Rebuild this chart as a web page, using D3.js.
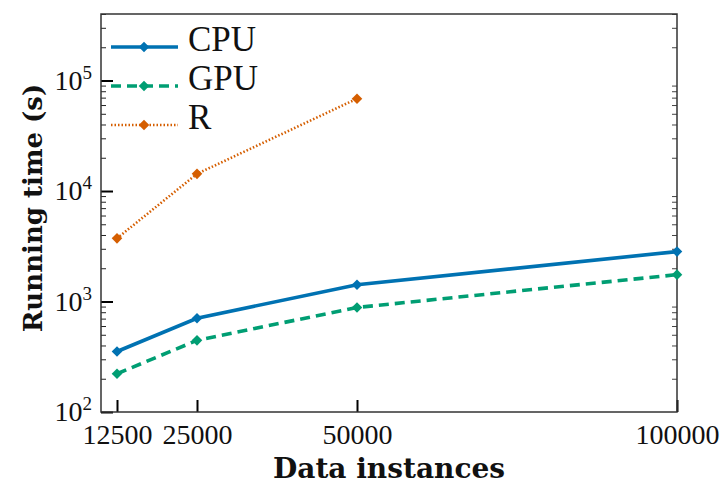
<!DOCTYPE html>
<html>
<head>
<meta charset="utf-8">
<script src="https://cdn.jsdelivr.net/npm/d3@7"></script>
<style>
  body { margin: 0; background: #fff; }
  svg { display: block; }
</style>
</head>
<body>
<script>
const w = 721
const h = 485
const margin = { top: 14, right: 44, bottom: 73, left: 101 }

// data
const instances = [12500, 25000, 50000, 100000]
const cpuTimes = [353, 706, 1420, 2830]
const gpuTimes = [222, 445, 883, 1750]
const rInstances = [12500, 25000, 50000]
const rTimes = [3730, 14300, 68500]
const seriesNames = ['CPU', 'GPU', 'R']
const yTickValues = [1e2, 1e3, 1e4, 1e5]

const series = [
  { name: seriesNames[0], x: instances, y: cpuTimes, color: '#0072B2', width: 3.6, dash: null },
  { name: seriesNames[1], x: instances, y: gpuTimes, color: '#009E73', width: 3.6, dash: '10,6' },
  { name: seriesNames[2], x: rInstances, y: rTimes, color: '#D55E00', width: 2.6, dash: '1.5,2' }
]

const svg = d3.select('body').append('svg')
  .attr('width', w)
  .attr('height', h)

const x = d3.scaleLinear()
  .domain([10000, 100000])
  .range([margin.left, w - margin.right])

const y = d3.scaleLog()
  .domain([100, 4e5])
  .range([h - margin.bottom, margin.top])

const serif = 'Liberation Serif, Times New Roman, serif'

// minor ticks (2..9 per decade)
const minor = []
for (let e = 2; e <= 5; e++) {
  for (let m = 2; m <= 9; m++) {
    const v = m * Math.pow(10, e)
    if (v <= 4e5) minor.push(v)
  }
}

svg.append('g')
  .attr('transform', `translate(${margin.left},0)`)
  .call(d3.axisLeft(y).tickValues(minor).tickSize(-5).tickFormat(''))
  .call(g => g.select('.domain').remove())
  .call(g => g.selectAll('line').attr('stroke', '#222').attr('stroke-width', 1))

svg.append('g')
  .attr('transform', `translate(${w - margin.right},0)`)
  .call(d3.axisRight(y).tickValues(minor).tickSize(-5).tickFormat(''))
  .call(g => g.select('.domain').remove())
  .call(g => g.selectAll('line').attr('stroke', '#444').attr('stroke-width', 1))

// major y ticks
const yAxis = svg.append('g')
  .attr('transform', `translate(${margin.left},0)`)
  .call(d3.axisLeft(y).tickValues(yTickValues).tickSize(-12).tickPadding(9))
yAxis.select('.domain').remove()
yAxis.selectAll('line').attr('stroke', '#000').attr('stroke-width', 2)
yAxis.selectAll('.tick text')
  .attr('font-family', serif)
  .attr('font-size', 28)
  .attr('fill', '#111')
  .text(null)
  .each(function (d) {
    const t = d3.select(this)
    t.append('tspan').text('10')
    t.append('tspan').attr('dy', -11).attr('font-size', 19).text(Math.round(Math.log10(d)))
  })

// x ticks
const xAxis = svg.append('g')
  .attr('transform', `translate(0,${h - margin.bottom})`)
  .call(d3.axisBottom(x).tickValues(instances).tickSize(-12).tickPadding(12).tickFormat(d3.format('d')))
xAxis.select('.domain').remove()
xAxis.selectAll('line').attr('stroke', '#000').attr('stroke-width', 2)
xAxis.selectAll('.tick text')
  .attr('font-family', serif)
  .attr('font-size', 28)
  .attr('fill', '#111')

// frame
svg.append('rect')
  .attr('x', margin.left)
  .attr('y', margin.top)
  .attr('width', w - margin.left - margin.right)
  .attr('height', h - margin.top - margin.bottom)
  .attr('fill', 'none')
  .attr('stroke', '#333')
  .attr('stroke-width', 1.5)

// lines
const line = d3.line()
  .x(d => x(d[0]))
  .y(d => y(d[1]))

const diamond = d3.symbol(d3.symbolSquare, 56)

series.forEach(s => {
  const pts = s.x.map((v, i) => [v, s.y[i]])
  svg.append('path')
    .datum(pts)
    .attr('d', line)
    .attr('fill', 'none')
    .attr('stroke', s.color)
    .attr('stroke-width', s.width)
    .attr('stroke-dasharray', s.dash)
  svg.selectAll(null)
    .data(pts)
    .enter()
    .append('path')
    .attr('d', diamond)
    .attr('transform', d => `translate(${x(d[0])},${y(d[1])}) rotate(45)`)
    .attr('fill', s.color)
})

// legend
const legendY = [47, 86, 125]
series.forEach((s, i) => {
  const g = svg.append('g').attr('transform', `translate(0,${legendY[i]})`)
  g.append('line')
    .attr('x1', 111).attr('x2', 178)
    .attr('stroke', s.color)
    .attr('stroke-width', s.width)
    .attr('stroke-dasharray', s.dash)
  g.append('path')
    .attr('d', diamond)
    .attr('transform', 'translate(144,0) rotate(45)')
    .attr('fill', s.color)
  g.append('text')
    .attr('x', 188)
    .attr('y', 4)
    .attr('font-family', serif)
    .attr('font-size', 35)
    .attr('fill', '#111')
    .text(s.name)
})

// axis titles
svg.append('text')
  .attr('x', (margin.left + w - margin.right) / 2)
  .attr('y', 478)
  .attr('text-anchor', 'middle')
  .attr('font-family', 'DejaVu Serif, serif')
  .attr('font-weight', 'bold')
  .attr('font-size', 28)
  .attr('fill', '#111')
  .text('Data instances')

svg.append('text')
  .attr('transform', 'translate(42,208) rotate(-90)')
  .attr('text-anchor', 'middle')
  .attr('font-family', 'DejaVu Serif, serif')
  .attr('font-weight', 'bold')
  .attr('font-size', 26)
  .attr('fill', '#111')
  .text('Running time (s)')
</script>
</body>
</html>
